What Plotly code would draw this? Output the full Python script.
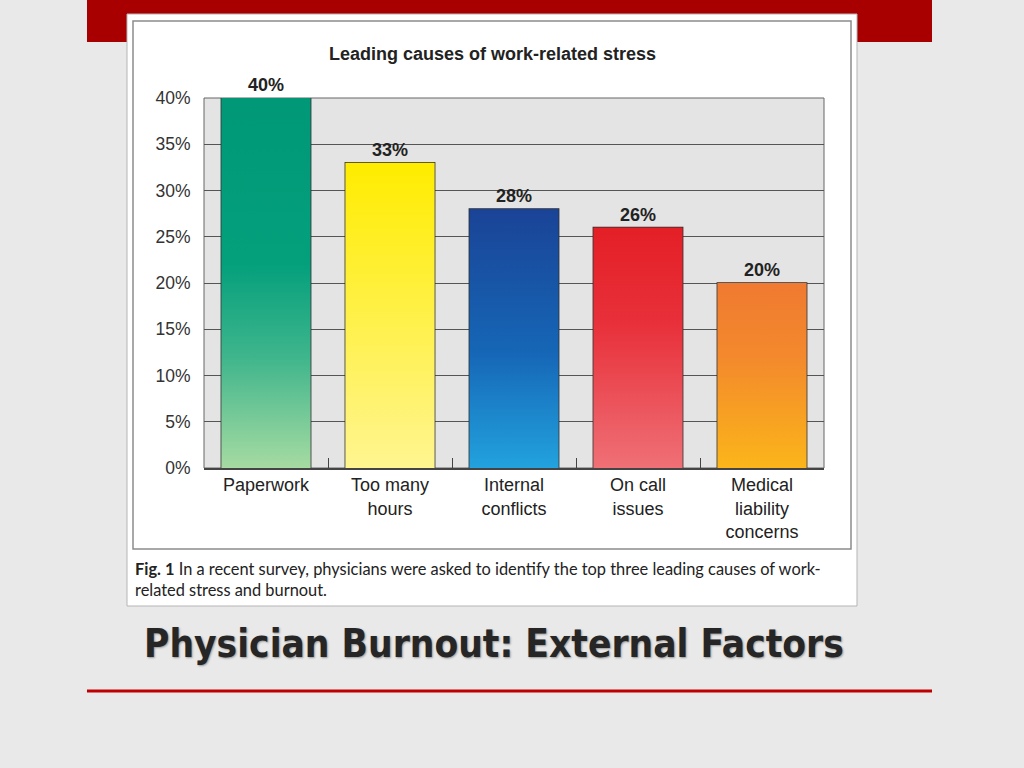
import plotly.graph_objects as go

# data
causes = ["Paperwork", "Too many<br>hours", "Internal<br>conflicts", "On call<br>issues", "Medical<br>liability<br>concerns"]
percent = [40, 33, 28, 26, 20]
value_labels = ["40%", "33%", "28%", "26%", "20%"]
y_ticks = [0, 5, 10, 15, 20, 25, 30, 35, 40]
y_tick_labels = ["0%", "5%", "10%", "15%", "20%", "25%", "30%", "35%", "40%"]

# bottom -> top colours of each bar's gradient
bar_scales = [
    [[0, "#a6dba2"], [0.3, "#3fb58c"], [0.55, "#04a07c"], [1, "#009877"]],
    [[0, "#fff590"], [1, "#ffec00"]],
    [[0, "#22a2de"], [0.45, "#1666b6"], [1, "#1a4396"]],
    [[0, "#ef7076"], [0.6, "#e8303a"], [1, "#e41f26"]],
    [[0, "#fbb51a"], [0.6, "#f3892c"], [1, "#f07a31"]],
]

BAR_W = 0.72
L, R, T, B = 204, 824, 98, 468  # plot area in pixels


def px_x(p):
    return (p - L) / (R - L)


def px_y(p):
    return (B - p) / (B - T)


fig = go.Figure()

for i, (v, cs) in enumerate(zip(percent, bar_scales)):
    fig.add_trace(go.Scatter(
        x=[i - BAR_W / 2, i + BAR_W / 2], y=[v, v],
        mode="lines", line=dict(width=0), fill="tozeroy",
        fillgradient=dict(type="vertical", colorscale=cs),
        hoverinfo="skip", showlegend=False))

fig.add_trace(go.Bar(
    x=list(range(len(percent))), y=percent, width=BAR_W,
    marker=dict(color="rgba(0,0,0,0)", line=dict(color="#2b2b2b", width=1.5)),
    text=value_labels, textposition="outside", cliponaxis=False,
    textfont=dict(family="Liberation Sans, Arial", size=18, color="#222", weight="bold"),
    showlegend=False))

shapes = [
    # red band at top of the slide
    dict(type="rect", xref="paper", yref="paper", x0=px_x(87), x1=px_x(932), y0=px_y(42), y1=px_y(-5),
         fillcolor="#a80000", line=dict(width=0), layer="below"),
    # white figure panel
    dict(type="rect", xref="paper", yref="paper", x0=px_x(127), x1=px_x(857), y0=px_y(606), y1=px_y(14),
         fillcolor="white", line=dict(color="#b5b5b5", width=1), layer="below"),
    # inner frame around chart
    dict(type="rect", xref="paper", yref="paper", x0=px_x(133), x1=px_x(851), y0=px_y(549), y1=px_y(21),
         fillcolor="white", line=dict(color="#8c8c8c", width=1.5), layer="below"),
    # plot background
    dict(type="rect", xref="paper", yref="paper", x0=0, x1=1, y0=0, y1=1,
         fillcolor="#e4e4e4", line=dict(color="#666", width=1), layer="below"),
    # red rule under slide title
    dict(type="line", xref="paper", yref="paper", x0=px_x(87), x1=px_x(932), y0=px_y(691), y1=px_y(691),
         line=dict(color="#c00000", width=3)),
]

annotations = [
    dict(text="<b>Leading causes of work-related stress</b>", xref="paper", yref="paper",
         x=px_x(492), y=px_y(54), showarrow=False, xanchor="center", yanchor="middle",
         font=dict(family="Liberation Sans, Arial", size=18, color="#222")),
    dict(text="<b>Fig. 1</b> In a recent survey, physicians were asked to identify the top three leading causes of work-<br>related stress and burnout.",
         xref="paper", yref="paper", x=px_x(133), y=px_y(557), showarrow=False,
         xanchor="left", yanchor="top", align="left",
         font=dict(family="Lato, Open Sans, sans-serif", size=16.4, color="#222")),
    dict(text="<b>Physician Burnout: External Factors</b>", xref="paper", yref="paper",
         x=px_x(494), y=px_y(643), showarrow=False, xanchor="center", yanchor="middle",
         font=dict(family="Liberation Sans Narrow, DejaVu Sans Condensed, Roboto Condensed, sans-serif",
                   size=38.5, color="#262626", shadow="1px 1px 2px #999")),
]

fig.update_layout(
    width=1024, height=768,
    margin=dict(l=L, r=1024 - R, t=T, b=768 - B),
    paper_bgcolor="#e9e9e9", plot_bgcolor="rgba(0,0,0,0)",
    shapes=shapes, annotations=annotations,
    font=dict(family="Liberation Sans, Arial"),
)

fig.update_xaxes(
    range=[-0.5, len(percent) - 0.5], tickvals=list(range(len(percent))), ticktext=causes,
    ticks="", showgrid=False, zeroline=False,
    showline=True, linecolor="#444", linewidth=1.5,
    tickfont=dict(size=18, color="#222"),
    minor=dict(tickvals=[0.5, 1.5, 2.5, 3.5], ticks="inside", ticklen=10, tickcolor="#444", tickwidth=1),
)
fig.update_yaxes(
    range=[0, 40], tickvals=y_ticks, ticktext=y_tick_labels,
    showgrid=True, gridcolor="#555", gridwidth=1, zeroline=False,
    ticks="outside", ticklen=9, tickcolor="rgba(0,0,0,0)",
    tickfont=dict(size=17.5, color="#333"),
)

fig.write_html("out.html", config={"displayModeBar": False},
               post_script="document.body.style.margin='0';")
